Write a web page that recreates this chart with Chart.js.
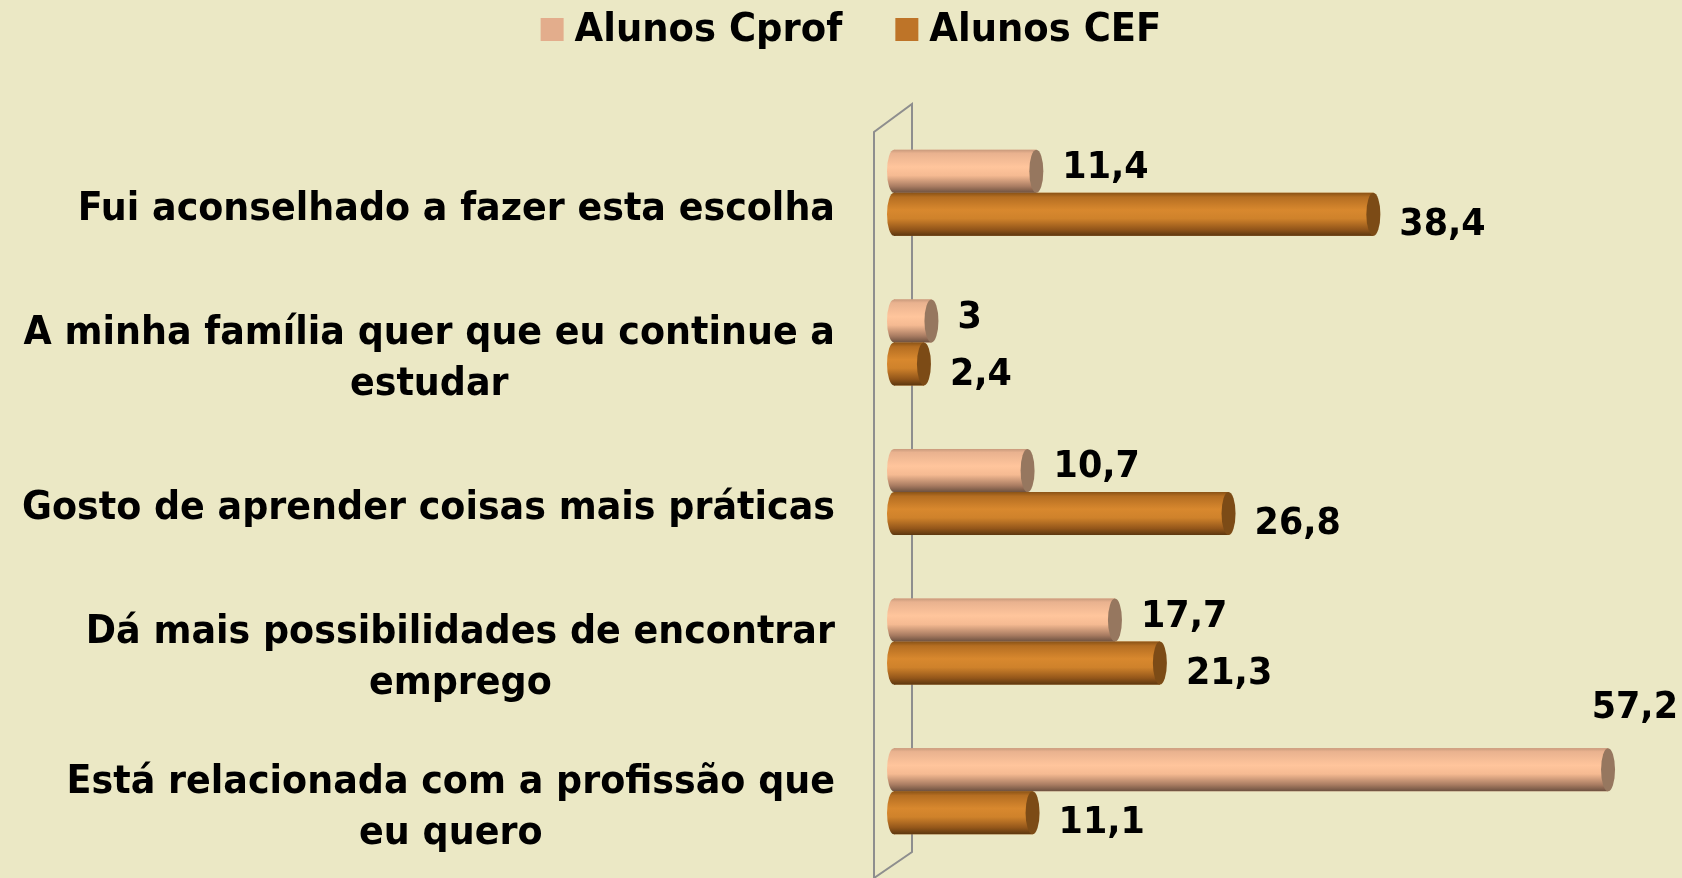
<!DOCTYPE html>
<html>
<head>
<meta charset="utf-8">
<script src="https://cdn.jsdelivr.net/npm/chart.js@4.4.0/dist/chart.umd.min.js"></script>
<style>
  html, body { margin: 0; padding: 0; background: #ebe8c5; }
  #wrap { width: 1682px; height: 878px; }
</style>
</head>
<body>
<div id="wrap"><canvas id="chart"></canvas></div>
<script>
// data
const categories = [
    "Fui aconselhado a fazer esta escolha",
    ["A minha família quer que eu continue a", "estudar"],
    "Gosto de aprender coisas mais práticas",
    ["Dá mais possibilidades de encontrar", "emprego"],
    ["Está relacionada com a profissão que", "eu quero"]
];
const seriesNames = ["Alunos Cprof", "Alunos CEF"];
const cprofValues = [11.4, 3, 10.7, 17.7, 57.2];
const cefValues = [38.4, 2.4, 26.8, 21.3, 11.1];

const legendColors = ["#e3ad8c", "#be7428"];
const shades = [
    { body: [[0, "#c99a7c"], [0.08, "#e9b28f"], [0.4, "#ffc59c"], [0.6, "#f5ba92"], [0.85, "#a97c62"], [1, "#6d5140"]], cap: "#96775f" },
    { body: [[0, "#8a5316"], [0.1, "#b56e22"], [0.4, "#d8882e"], [0.6, "#cf822b"], [0.85, "#93561a"], [1, "#5c370f"]], cap: "#7c4b16" }
];
const FONT = '"DejaVu Sans", sans-serif';

function fmt(v) {
    return String(v).replace(".", ",");
}

// text a bit taller than the font gives, like the original
function tallText(ctx, txt, x, y, sy) {
    ctx.save();
    ctx.translate(x, y);
    ctx.scale(1, sy);
    ctx.fillText(txt, 0, 0);
    ctx.restore();
}

// wall, cylinders, labels
const cylinders = {
    id: "cylinders",
    beforeDatasetsDraw(chart) {
        const { ctx, chartArea: a } = chart;
        const fx = a.left - 20, bx = a.left + 18;
        ctx.save();
        ctx.strokeStyle = "#8e8e8e";
        ctx.lineWidth = 2;
        ctx.beginPath();
        ctx.moveTo(fx, chart.height + 4);
        ctx.lineTo(fx, a.top + 14);
        ctx.lineTo(bx, a.top - 14);
        ctx.lineTo(bx, a.bottom - 14);
        ctx.lineTo(fx, a.bottom + 12);
        ctx.stroke();
        ctx.restore();
    },
    afterDatasetsDraw(chart) {
        const ctx = chart.ctx;
        chart.data.datasets.forEach((ds, di) => {
            const meta = chart.getDatasetMeta(di);
            meta.data.forEach((el, i) => {
                const h = el.height, top = el.y - h / 2;
                const g = ctx.createLinearGradient(0, top, 0, top + h);
                shades[di].body.forEach(s => g.addColorStop(s[0], s[1]));
                ctx.save();
                ctx.fillStyle = g;
                ctx.beginPath();
                ctx.ellipse(el.base, el.y, 7, h / 2, 0, 0, Math.PI * 2);
                ctx.fill();
                ctx.fillRect(el.base, top, el.x - el.base, h);
                ctx.fillStyle = shades[di].cap;
                ctx.beginPath();
                ctx.ellipse(el.x, el.y, 7, h / 2, 0, 0, Math.PI * 2);
                ctx.fill();

                // value label
                const txt = fmt(ds.data[i]);
                ctx.font = "bold 35px " + FONT;
                ctx.fillStyle = "#000";
                ctx.textAlign = "center";
                ctx.textBaseline = "middle";
                const w = ctx.measureText(txt).width;
                let cx = el.x + 26 + w / 2;
                let cy = el.y + (di === 0 ? -3 : 11);
                if (cx + w / 2 > chart.width - 4) {
                    cx = chart.width - 4 - w / 2;
                    cy = top - 40;
                }
                tallText(ctx, txt, cx, cy, 1.06);
                ctx.restore();
            });
        });
    },
    afterDraw(chart) {
        const { ctx, chartArea: a, scales } = chart;
        ctx.save();
        ctx.fillStyle = "#000";
        ctx.textBaseline = "middle";
        ctx.textAlign = "center";

        // category labels, right edge fixed, extra lines centred
        ctx.font = "bold 36.5px " + FONT;
        const right = a.left - 59;
        categories.forEach((lab, i) => {
            const lines = Array.isArray(lab) ? lab : [lab];
            const widest = Math.max(...lines.map(l => ctx.measureText(l).width));
            const y0 = scales.y.getPixelForTick(i) + 17;
            lines.forEach((l, k) => {
                tallText(ctx, l, right - widest / 2, y0 + (k - (lines.length - 1) / 2) * 51, 1.08);
            });
        });

        // legend
        ctx.font = "bold 37px " + FONT;
        const widths = seriesNames.map(n => ctx.measureText(n).width);
        const total = 23 + 11 + widths[0] + 53 + 23 + 11 + widths[1];
        let x = (chart.width - total) / 2 + 10;
        ctx.textAlign = "left";
        seriesNames.forEach((n, i) => {
            ctx.fillStyle = legendColors[i];
            ctx.fillRect(x, 18, 23, 23);
            ctx.fillStyle = "#000";
            tallText(ctx, n, x + 34, 31, 1.06);
            x += 34 + widths[i] + 53;
        });
        ctx.restore();
    }
};

new Chart(document.getElementById("chart"), {
    type: "bar",
    data: {
        labels: categories,
        datasets: [
            { label: seriesNames[0], data: cprofValues, backgroundColor: legendColors[0] },
            { label: seriesNames[1], data: cefValues, backgroundColor: legendColors[1] }
        ]
    },
    options: {
        indexAxis: "y",
        responsive: true,
        maintainAspectRatio: false,
        animation: false,
        layout: { padding: { left: 0, top: 118, right: 39, bottom: 12 } },
        datasets: { bar: { barPercentage: 1, categoryPercentage: 0.575 } },
        plugins: {
            legend: { display: false },
            tooltip: { enabled: false }
        },
        scales: {
            x: { display: false, min: 0, max: 60 },
            y: {
                grid: { display: false },
                border: { display: false },
                ticks: { display: false },
                afterFit: s => { s.width = 894; }
            }
        }
    },
    plugins: [cylinders]
});
</script>
</body>
</html>
